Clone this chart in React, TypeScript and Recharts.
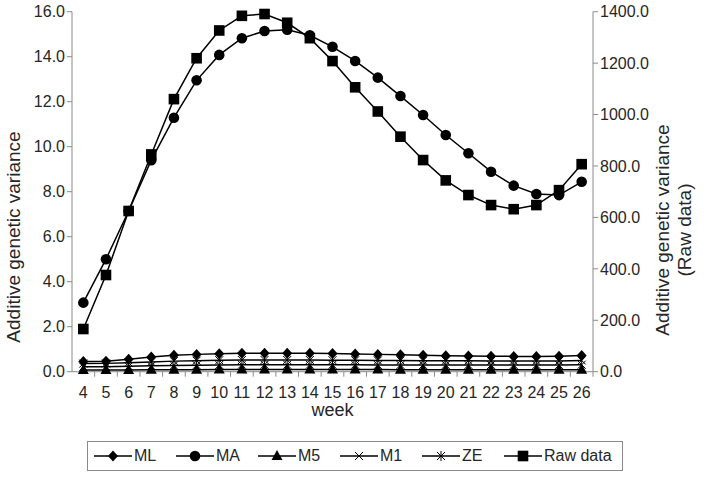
import React from "react";
import { LineChart, Line, XAxis, YAxis } from "recharts";

const weeks = [4, 5, 6, 7, 8, 9, 10, 11, 12, 13, 14, 15, 16, 17, 18, 19, 20, 21, 22, 23, 24, 25, 26];
const ML = [0.45, 0.46, 0.55, 0.65, 0.73, 0.77, 0.8, 0.82, 0.82, 0.82, 0.82, 0.81, 0.79, 0.77, 0.75, 0.73, 0.71, 0.7, 0.69, 0.68, 0.68, 0.69, 0.72];
const MA = [3.07, 5.0, 7.14, 9.4, 11.29, 12.95, 14.08, 14.82, 15.14, 15.2, 14.95, 14.44, 13.81, 13.07, 12.25, 11.41, 10.52, 9.71, 8.89, 8.27, 7.9, 7.85, 8.44];
const M5 = [0.08, 0.08, 0.08, 0.09, 0.09, 0.09, 0.1, 0.1, 0.1, 0.1, 0.1, 0.1, 0.1, 0.1, 0.09, 0.09, 0.09, 0.09, 0.09, 0.09, 0.09, 0.09, 0.09];
const M1 = [0.22, 0.22, 0.24, 0.26, 0.28, 0.29, 0.3, 0.31, 0.31, 0.31, 0.31, 0.31, 0.31, 0.3, 0.3, 0.3, 0.3, 0.3, 0.3, 0.3, 0.3, 0.3, 0.31];
const ZE = [0.36, 0.37, 0.4, 0.43, 0.47, 0.49, 0.51, 0.52, 0.52, 0.52, 0.52, 0.51, 0.51, 0.5, 0.5, 0.49, 0.49, 0.49, 0.48, 0.48, 0.48, 0.48, 0.5];
const RAW = [166, 376, 625, 845, 1060, 1219, 1327, 1384, 1391, 1357, 1297, 1208, 1106, 1012, 914, 823, 744, 687, 648, 632, 648, 706, 807];

const leftTicks = [0, 2, 4, 6, 8, 10, 12, 14, 16];
const rightTicks = [0, 200, 400, 600, 800, 1000, 1200, 1400];

const seriesNames = ["ML", "MA", "M5", "M1", "ZE", "Raw data"];

const data = weeks.map((w, i) => ({
  week: w,
  ML: ML[i],
  MA: MA[i],
  M5: M5[i],
  M1: M1[i],
  ZE: ZE[i],
  RAW: RAW[i],
}));

const FONT = "'Liberation Sans', Arial, sans-serif";
const AXIS = "#8a8a8a";
const TEXT = "#262626";

const W = 709;
const H = 478;
const LEFT_W = 72;
const RIGHT_W = 116;
const TOP = 11.7;
const XAX_H = 30;
const BOTTOM = H - 371.7 - XAX_H;
const BAND = (W - LEFT_W - RIGHT_W) / weeks.length;

type Shape = "diamond" | "circle" | "triangle" | "x" | "star" | "square";

function Marker({ shape, cx, cy }: { shape: Shape; cx: number; cy: number }) {
  switch (shape) {
    case "diamond":
      return <path d={`M${cx},${cy - 5.5}L${cx + 5},${cy}L${cx},${cy + 5.5}L${cx - 5},${cy}Z`} fill="#000" />;
    case "circle":
      return <circle cx={cx} cy={cy} r={5.3} fill="#000" />;
    case "triangle":
      return <path d={`M${cx},${cy - 6}L${cx + 5.5},${cy + 4}L${cx - 5.5},${cy + 4}Z`} fill="#000" />;
    case "x":
      return (
        <path
          d={`M${cx - 4},${cy - 4}L${cx + 4},${cy + 4}M${cx - 4},${cy + 4}L${cx + 4},${cy - 4}`}
          stroke="#000"
          strokeWidth={1}
          fill="none"
        />
      );
    case "star":
      return (
        <path
          d={`M${cx - 4},${cy - 4}L${cx + 4},${cy + 4}M${cx - 4},${cy + 4}L${cx + 4},${cy - 4}M${cx},${cy - 5}L${cx},${cy + 5}`}
          stroke="#000"
          strokeWidth={1}
          fill="none"
        />
      );
    case "square":
      return <rect x={cx - 5.3} y={cy - 5.3} width={10.6} height={10.6} fill="#000" />;
  }
  return null;
}

const makeDot = (shape: Shape, name: string) => (props: any) => {
  const { cx, cy, index } = props;
  if (cx == null || cy == null) return <g key={`${name}-${index}`} />;
  return (
    <g key={`${name}-${index}`}>
      <Marker shape={shape} cx={cx} cy={cy} />
    </g>
  );
};

const XTick = (props: any) => {
  const { x, y, payload } = props;
  return (
    <g>
      <line x1={x + BAND / 2} x2={x + BAND / 2} y1={y} y2={y + 5} stroke={AXIS} strokeWidth={1} />
      <text x={x} y={y + 26} textAnchor="middle" fontSize={16} fontFamily={FONT} fill={TEXT}>
        {payload.value}
      </text>
    </g>
  );
};

const shapes: Shape[] = ["diamond", "circle", "triangle", "x", "star", "square"];

function LegendBox() {
  return (
    <div
      style={{
        position: "absolute",
        left: 87,
        top: 441,
        width: 536,
        height: 30,
        border: "1px solid #8a8a8a",
        boxSizing: "border-box",
        fontFamily: FONT,
        fontSize: 16,
        color: TEXT,
      }}
    >
      {seriesNames.map((n, i) => (
        <div
          key={n}
          style={{
            position: "absolute",
            left: 6 + i * 82,
            top: 0,
            height: 28,
            display: "flex",
            alignItems: "center",
            whiteSpace: "nowrap",
          }}
        >
          <svg width={38} height={14} style={{ marginRight: 2 }}>
            <line x1={0} x2={38} y1={7} y2={7} stroke="#000" strokeWidth={1.5} />
            <Marker shape={shapes[i]} cx={19} cy={7} />
          </svg>
          <span>{n}</span>
        </div>
      ))}
    </div>
  );
}

export default function App() {
  return (
    <div style={{ position: "absolute", left: 0, top: 0, width: W, height: H, background: "#fff" }}>
      <LineChart
        width={W}
        height={H}
        data={data}
        margin={{ top: TOP, right: 0, left: 0, bottom: BOTTOM }}
      >
        <XAxis
          dataKey="week"
          xAxisId={0}
          height={XAX_H}
          padding={{ left: BAND / 2, right: BAND / 2 }}
          tick={<XTick />}
          tickLine={false}
          tickSize={0}
          tickMargin={0}
          interval={0}
          axisLine={{ stroke: AXIS, strokeWidth: 1 }}
          label={{
            value: "week",
            position: "insideBottom",
            offset: -14,
            style: { fontSize: 18, fontFamily: FONT, fill: TEXT },
          }}
        />
        <YAxis
          yAxisId="left"
          width={LEFT_W}
          domain={[0, 16]}
          ticks={leftTicks}
          interval={0}
          tickFormatter={(v: number) => v.toFixed(1)}
          tick={{ fontSize: 16, fontFamily: FONT, fill: TEXT }}
          tickLine={{ stroke: AXIS }}
          tickSize={5}
          axisLine={{ stroke: AXIS, strokeWidth: 1 }}
          label={{
            content: () => (
              <text
                transform="translate(20,237) rotate(-90)"
                textAnchor="middle"
                fontSize={19}
                fontFamily={FONT}
                fill={TEXT}
              >
                Additive genetic variance
              </text>
            ),
          }}
        />
        <YAxis
          yAxisId="right"
          orientation="right"
          width={RIGHT_W}
          domain={[0, 1400]}
          ticks={rightTicks}
          interval={0}
          tickFormatter={(v: number) => v.toFixed(1)}
          tick={{ fontSize: 16, fontFamily: FONT, fill: TEXT }}
          tickLine={{ stroke: AXIS }}
          tickSize={5}
          axisLine={{ stroke: AXIS, strokeWidth: 1 }}
          label={{
            content: () => (
              <text
                transform="translate(669,230) rotate(-90)"
                textAnchor="middle"
                fontSize={19}
                fontFamily={FONT}
                fill={TEXT}
              >
                <tspan x={0} dy={0}>Additive genetic variance</tspan>
                <tspan x={0} dy={22}>(Raw data)</tspan>
              </text>
            ),
          }}
        />
        <Line yAxisId="left" dataKey="M5" stroke="#000" strokeWidth={1.5} dot={makeDot("triangle", "M5")} isAnimationActive={false} />
        <Line yAxisId="left" dataKey="M1" stroke="#000" strokeWidth={1.5} dot={makeDot("x", "M1")} isAnimationActive={false} />
        <Line yAxisId="left" dataKey="ZE" stroke="#000" strokeWidth={1.5} dot={makeDot("star", "ZE")} isAnimationActive={false} />
        <Line yAxisId="left" dataKey="ML" stroke="#000" strokeWidth={1.5} dot={makeDot("diamond", "ML")} isAnimationActive={false} />
        <Line yAxisId="left" dataKey="MA" stroke="#000" strokeWidth={1.5} dot={makeDot("circle", "MA")} isAnimationActive={false} />
        <Line yAxisId="right" dataKey="RAW" name="Raw data" stroke="#000" strokeWidth={1.5} dot={makeDot("square", "RAW")} isAnimationActive={false} />
      </LineChart>
      <LegendBox />
    </div>
  );
}
